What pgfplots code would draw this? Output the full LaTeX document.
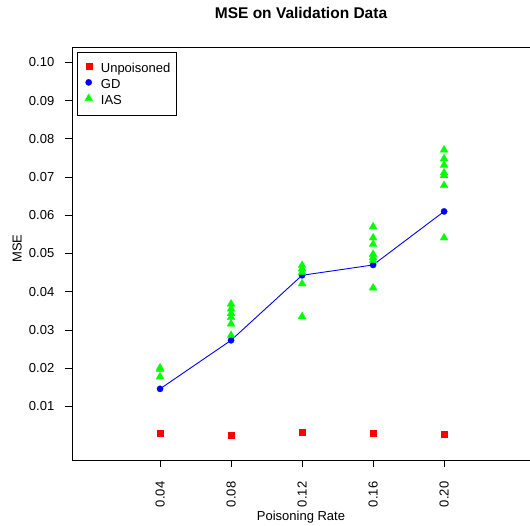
\documentclass[border=0pt]{standalone}
\usepackage{fontspec}
\setmainfont{Liberation Sans}
\usepackage{pgfplots}
\usepackage{pgfplotstable}
\pgfplotsset{compat=1.18}

% unpoisoned baseline MSE
\pgfplotstableread{
rate mse
0.04 0.0030
0.08 0.0024
0.12 0.0032
0.16 0.0031
0.20 0.0029
}\unpoisoned

% gradient descent attack
\pgfplotstableread{
rate mse
0.04 0.0146
0.08 0.0273
0.12 0.0443
0.16 0.0470
0.20 0.0610
}\gd

% IAS attack runs
\pgfplotstableread{
rate mse
0.04 0.0201
0.04 0.0197
0.04 0.0178
0.08 0.0368
0.08 0.0355
0.08 0.0343
0.08 0.0333
0.08 0.0316
0.08 0.0286
0.12 0.0469
0.12 0.0460
0.12 0.0451
0.12 0.0421
0.12 0.0335
0.16 0.0570
0.16 0.0541
0.16 0.0524
0.16 0.0498
0.16 0.0489
0.16 0.0482
0.16 0.0410
0.20 0.0771
0.20 0.0748
0.20 0.0731
0.20 0.0711
0.20 0.0704
0.20 0.0678
0.20 0.0541
}\ias

\begin{document}
\begin{tikzpicture}
\path[use as bounding box] (0pt,0pt) rectangle (530pt,526pt);
\begin{axis}[
    at={(72pt,66pt)}, anchor=south west,
    scale only axis, width=458pt, height=413pt,
    xmin=-0.0096, xmax=0.2484,
    ymin=-0.004, ymax=0.104,
    axis x line=box, axis y line=left,
    axis line style={-, black, line width=0.8pt},
    tick pos=left, tick align=outside,
    major tick length=7.2pt,
    tick style={black, line width=0.8pt},
    xtick={0.04,0.08,0.12,0.16,0.20},
    ytick={0.01,0.02,0.03,0.04,0.05,0.06,0.07,0.08,0.09,0.10},
    /pgf/number format/assume math mode=true,
    /pgf/number format/fixed,
    /pgf/number format/fixed zerofill,
    /pgf/number format/precision=2,
    scaled ticks=false,
    tick label style={font=\fontsize{13}{15}\selectfont},
    xticklabel style={rotate=90, anchor=east},
    xticklabel shift=11pt,
    yticklabel shift=7pt,
    title={MSE on Validation Data},
    title style={font=\fontsize{15.5}{18}\selectfont\bfseries,
        at={(axis description cs:0.5,1.069)}, anchor=base, yshift=-6pt},
    xlabel={Poisoning Rate},
    xlabel style={font=\fontsize{13}{15}\selectfont,
        at={(axis description cs:0.5,-0.1453)}, anchor=base},
    ylabel={MSE},
    ylabel style={font=\fontsize{13}{15}\selectfont,
        at={(axis description cs:-0.1098,0.5116)}, anchor=base, rotate=0},
    legend style={font=\fontsize{13}{15}\selectfont,
        at={(axis description cs:0,1)}, anchor=north west,
        xshift=4.7pt, yshift=-5pt,
        draw=black, line width=0.8pt,
        inner xsep=6.3pt, inner ysep=7.6pt,
        nodes={inner sep=0pt, text height=12.6pt, text depth=3.4pt},
        column sep=8.2pt},
    legend cell align=left,
    legend image code/.code={
        \path[draw=none, fill=none] (-5.3pt,0pt) (4pt,0pt);
        \draw[#1] plot coordinates {(0pt,1.6pt)};
    },
]
\addplot[only marks, mark=square*, mark size=3pt,
    mark options={draw=red, fill=red, line width=0.2pt}]
    table[x=rate, y=mse] {\unpoisoned};
\addlegendentry{Unpoisoned}
\addplot[blue, line width=0.9pt, mark=*, mark size=3.2pt,
    mark options={solid, draw=blue, fill=blue, line width=0.2pt}]
    table[x=rate, y=mse] {\gd};
\addlegendentry{GD}
\addplot[only marks, mark=triangle*, mark size=4.6pt,
    mark options={draw=green, fill=green, line width=0.2pt}]
    table[x=rate, y=mse] {\ias};
\addlegendentry{IAS}
\end{axis}
\end{tikzpicture}
\end{document}
